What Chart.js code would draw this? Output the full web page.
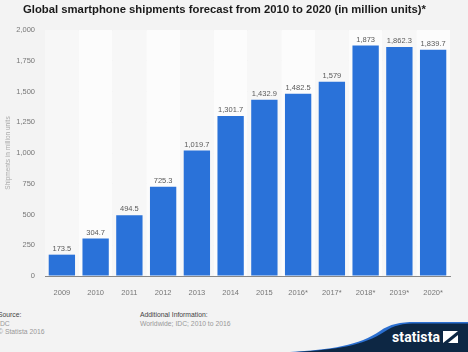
<!DOCTYPE html>
<html>
<head>
<meta charset="utf-8">
<script src="https://cdn.jsdelivr.net/npm/chart.js@4.4.0/dist/chart.umd.min.js"></script>
<style>
  body { margin: 0; background: #f3f3f3; font-family: "Liberation Sans", Arial, sans-serif; }
  #wrap { position: relative; width: 468px; height: 352px; overflow: hidden; background: #f3f3f3; }
  #title { position: absolute; left: 23px; top: 3px; white-space: nowrap; font-weight: bold; font-size: 11.3px; color: #1a1a1a; }
  #chartBox { position: absolute; left: 0; top: 0; width: 468px; height: 300px; }
  .ft { position: absolute; font-size: 6.8px; line-height: 8.5px; color: #999; }
  .ft b { font-weight: normal; color: #444; }
  #logo { position: absolute; left: 290px; top: 315px; }
  #logoText { position: absolute; left: 392px; top: 329px; font-family: "Roboto", "DejaVu Sans", sans-serif; font-weight: bold; font-size: 14px; color: #fff; letter-spacing: 0.1px; }
</style>
</head>
<body>
<div id="wrap">
  <div id="chartBox"><canvas id="grafico"></canvas></div>
  <div id="title">Global smartphone shipments forecast from 2010 to 2020 (in million units)*</div>
  <div class="ft" style="left:-2px; top:311px;"><b>Source:</b><br>IDC<br>© Statista 2016</div>
  <div class="ft" style="left:140px; top:311px;"><b>Additional Information:</b><br>Worldwide; IDC; 2010 to 2016</div>
  <svg id="logo" width="178" height="37" viewBox="0 0 178 37">
    <path d="M0,37 C40,35 70,30 90,16 C100,9 110,7 125,7 L178,7 L178,37 Z" fill="#2b6fd0"/>
    <path d="M6,37 C45,35 75,30 94,17 C104,10 112,8.5 128,8.5 L178,8.5 L178,37 Z" fill="#0d2744"/>
  </svg>
  <div id="logoText">statista<svg width="15" height="12" viewBox="0 0 15 12" style="margin-left:3px;vertical-align:-1px"><rect x="0" y="0" width="15" height="12" fill="#fff"/><path d="M0,12 L15,0 L15,4 L5,12 Z" fill="#0d2744"/></svg></div>
</div>
<script>
const years = ['2009', '2010', '2011', '2012', '2013', '2014', '2015', '2016*', '2017*', '2018*', '2019*', '2020*'];
const shipments = [173.5, 304.7, 494.5, 725.3, 1019.7, 1301.7, 1432.9, 1482.5, 1579, 1873, 1862.3, 1839.7];
const yTicks = [0, 250, 500, 750, 1000, 1250, 1500, 1750, 2000];

const fmt = v => v.toLocaleString('en-US', { maximumFractionDigits: 1 });

// alternating column bands behind the bars
const bands = {
  id: 'bands',
  beforeDatasetsDraw(chart) {
    const { ctx, chartArea: a, scales: { x } } = chart;
    const w = (a.right - a.left) / years.length;
    ctx.save();
    years.forEach((y, i) => {
      ctx.fillStyle = i % 2 ? '#fcfcfc' : '#f7f7f7';
      ctx.fillRect(x.getPixelForValue(i) - w / 2, a.top, w, a.bottom - a.top);
    });
    ctx.restore();
  }
};

// value labels on top of bars
const etiquetas = {
  id: 'etiquetas',
  afterDatasetsDraw(chart) {
    const { ctx } = chart;
    const meta = chart.getDatasetMeta(0);
    ctx.save();
    ctx.font = '7.5px "Liberation Sans", Arial, sans-serif';
    ctx.fillStyle = '#5a5a5a';
    ctx.textAlign = 'center';
    ctx.textBaseline = 'bottom';
    meta.data.forEach((bar, i) => {
      ctx.fillText(fmt(shipments[i]), bar.x, bar.y - 2);
    });
    ctx.restore();
  }
};

const ctx = document.getElementById('grafico').getContext('2d');
new Chart(ctx, {
  type: 'bar',
  data: {
    labels: years,
    datasets: [{
      label: 'Shipments in million units',
      data: shipments,
      backgroundColor: '#2a72d9',
      categoryPercentage: 0.78,
      barPercentage: 1
    }]
  },
  options: {
    responsive: true,
    maintainAspectRatio: false,
    animation: false,
    layout: { padding: { top: 30, right: 18, left: 0, bottom: 0 } },
    plugins: {
      legend: { display: false },
      tooltip: { enabled: false }
    },
    scales: {
      x: {
        grid: { display: false },
        border: { color: '#888', width: 1 },
        ticks: { color: '#777', font: { size: 7.5, family: '"Liberation Sans", Arial, sans-serif' }, padding: 4 },
        afterFit(s) { s.height = 24; }
      },
      y: {
        min: 0,
        max: 2000,
        afterBuildTicks(s) { s.ticks = yTicks.map(v => ({ value: v })); },
        grid: { color: '#e6e6e6', drawTicks: false },
        border: { display: false },
        ticks: {
          color: '#777',
          padding: 10,
          font: { size: 7.5, family: '"Liberation Sans", Arial, sans-serif' },
          callback: v => fmt(v)
        },
        title: {
          display: true,
          text: 'Shipments in million units',
          color: '#aaa',
          font: { size: 6.5, family: '"Liberation Sans", Arial, sans-serif' },
          padding: { top: 4, bottom: 0 }
        },
        afterFit(s) { s.width = 45; }
      }
    }
  },
  plugins: [bands, etiquetas]
});
</script>
</body>
</html>
